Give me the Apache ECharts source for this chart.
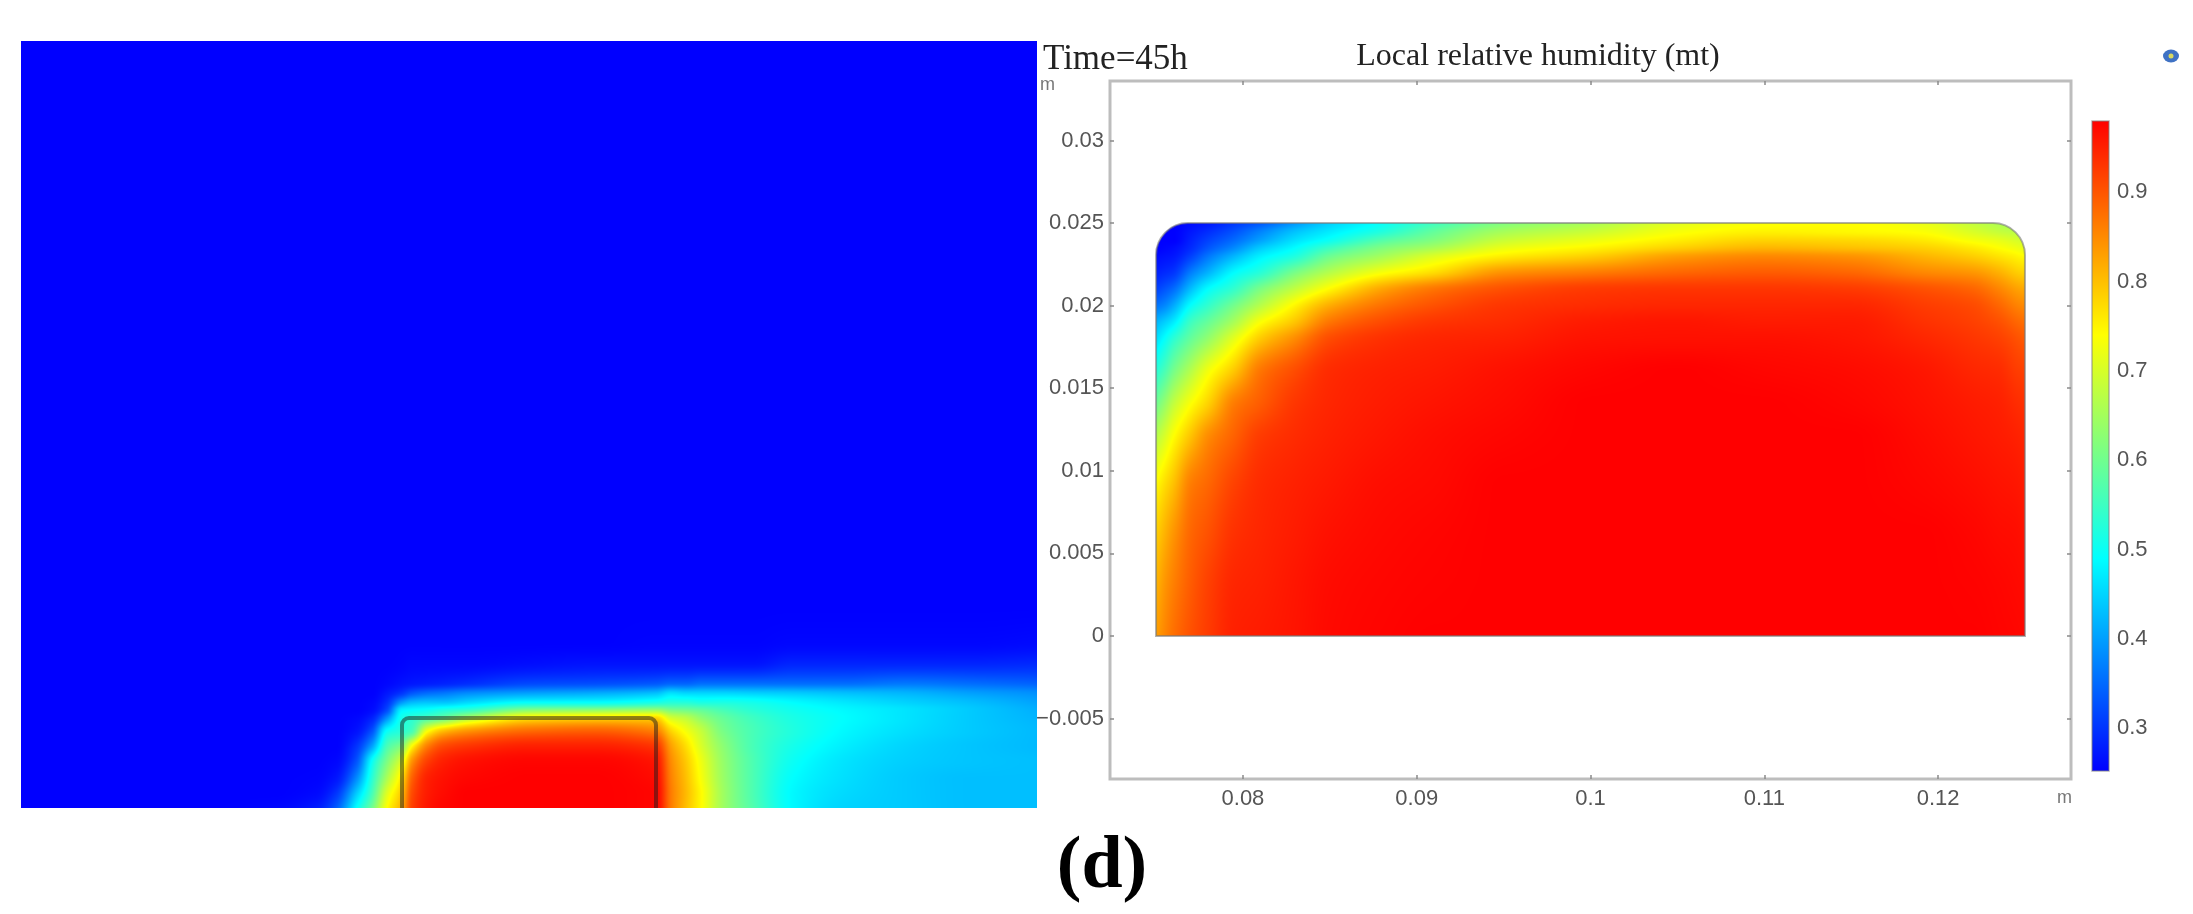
<!DOCTYPE html>
<html>
<head>
<meta charset="utf-8">
<title>Local relative humidity</title>
<script src="https://cdn.jsdelivr.net/npm/echarts@6/dist/echarts.min.js"></script>
<style>
  html, body { margin: 0; padding: 0; background: #fff; }
  #main { width: 2193px; height: 914px; }
</style>
</head>
<body>
<div id="main"></div>
<script>
// tick labels
var xTicks = [0.08, 0.09, 0.1, 0.11, 0.12];
var yTicks = [-0.005, 0, 0.005, 0.01, 0.015, 0.02, 0.025, 0.03];
var barTicks = [0.3, 0.4, 0.5, 0.6, 0.7, 0.8, 0.9];

// rainbow scale
var rampValues = [0.25, 0.49, 0.74, 0.98];
var rampColors = [[0, 0, 255], [0, 255, 255], [255, 255, 0], [255, 0, 0]];
var barRange = [0.252, 0.98];

// right panel: humidity, one inner list per x, top row first
var rightX = [0.075, 0.0755, 0.076, 0.077, 0.078, 0.0795, 0.081, 0.083, 0.085, 0.088, 0.091, 0.095, 0.1, 0.105, 0.11, 0.115, 0.119, 0.122, 0.1235, 0.1245, 0.125];
var rightY = [0.025, 0.0245, 0.024, 0.0235, 0.023, 0.022, 0.021, 0.02, 0.019, 0.018, 0.016, 0.014, 0.012, 0.009, 0.006, 0.003, 0];
var rightValues = [
  [.25,.25,.25,.25,.26,.28,.31,.36,.42,.46,.53,.60,.67,.745,.785,.81,.83],
  [.25,.25,.25,.255,.265,.29,.33,.38,.445,.495,.565,.64,.705,.775,.815,.84,.855],
  [.25,.25,.25,.26,.27,.30,.35,.41,.47,.53,.605,.68,.74,.80,.84,.86,.875],
  [.26,.27,.28,.29,.31,.37,.43,.495,.55,.59,.67,.74,.80,.865,.885,.895,.905],
  [.27,.29,.31,.33,.36,.42,.49,.54,.59,.635,.73,.785,.85,.885,.905,.92,.925],
  [.30,.325,.35,.38,.42,.49,.54,.605,.655,.715,.795,.865,.89,.92,.935,.945,.95],
  [.33,.37,.40,.44,.475,.53,.61,.67,.735,.79,.87,.895,.925,.94,.945,.95,.955],
  [.39,.43,.46,.49,.52,.61,.68,.75,.795,.85,.91,.93,.94,.95,.955,.96,.962],
  [.445,.47,.50,.55,.595,.67,.745,.82,.87,.91,.94,.945,.95,.958,.965,.97,.972],
  [.495,.52,.57,.615,.65,.735,.825,.875,.91,.935,.95,.955,.96,.968,.972,.975,.977],
  [.55,.585,.615,.655,.705,.775,.87,.905,.93,.945,.955,.962,.968,.972,.976,.978,.98],
  [.615,.65,.685,.72,.755,.845,.905,.93,.94,.95,.965,.97,.975,.98,.98,.98,.98],
  [.655,.685,.72,.75,.785,.865,.925,.94,.955,.963,.975,.98,.98,.98,.98,.98,.98],
  [.71,.73,.755,.785,.83,.885,.93,.945,.96,.965,.98,.98,.98,.98,.98,.98,.98],
  [.735,.75,.78,.81,.85,.895,.93,.945,.955,.965,.975,.98,.98,.98,.98,.98,.98],
  [.74,.745,.775,.80,.84,.885,.925,.945,.955,.96,.97,.975,.98,.98,.98,.98,.98],
  [.72,.735,.76,.785,.81,.855,.905,.925,.935,.945,.96,.965,.97,.975,.98,.98,.98],
  [.68,.70,.73,.76,.785,.84,.885,.91,.92,.93,.945,.955,.96,.968,.975,.978,.98],
  [.66,.68,.715,.74,.765,.815,.855,.885,.905,.92,.94,.95,.955,.963,.97,.975,.977],
  [.65,.67,.70,.725,.75,.79,.83,.86,.885,.905,.925,.94,.95,.96,.968,.972,.975],
  [.64,.66,.69,.715,.74,.78,.82,.85,.875,.895,.92,.935,.945,.955,.963,.97,.973]
];

// left panel: the wider view around the same block
var leftX = [0, 0.035, 0.05, 0.058, 0.062, 0.066, 0.069, 0.072, 0.075, 0.077, 0.08, 0.083, 0.088, 0.1, 0.113, 0.125, 0.128, 0.131, 0.134, 0.138, 0.144, 0.152, 0.162, 0.174, 0.187, 0.2];
var leftY = [0.1583, 0.048, 0.04, 0.036, 0.032, 0.03, 0.028, 0.0265, 0.025, 0.0225, 0.0195, 0.0165, 0.013, 0.01, 0.0073];
var leftValues = [
  [.25,.25,.25,.25,.25,.25,.25,.25,.25,.25,.25,.25,.25,.25,.25],
  [.25,.25,.25,.25,.25,.25,.25,.25,.25,.25,.25,.25,.25,.25,.25],
  [.25,.25,.25,.25,.25,.25,.25,.25,.25,.25,.25,.25,.25,.25,.255],
  [.25,.25,.25,.25,.25,.25,.25,.25,.25,.25,.25,.25,.252,.258,.275],
  [.25,.25,.25,.25,.25,.25,.25,.25,.25,.25,.25,.255,.27,.30,.335],
  [.25,.25,.25,.25,.25,.25,.25,.25,.255,.265,.295,.325,.38,.44,.49],
  [.25,.25,.25,.25,.25,.25,.255,.26,.28,.325,.40,.495,.53,.56,.60],
  [.25,.25,.25,.25,.255,.27,.295,.32,.385,.495,.56,.61,.66,.71,.74],
  [.25,.25,.25,.252,.265,.30,.40,.48,.51,.53,.62,.71,.77,.80,.82],
  [.25,.25,.25,.255,.27,.33,.43,.49,.53,.56,.74,.84,.89,.91,.92],
  [.25,.25,.25,.255,.275,.35,.44,.50,.56,.73,.86,.92,.95,.955,.96],
  [.25,.25,.25,.255,.28,.36,.44,.52,.59,.80,.91,.95,.965,.97,.975],
  [.25,.25,.25,.255,.29,.38,.46,.54,.66,.84,.93,.965,.975,.98,.98],
  [.25,.25,.25,.26,.315,.40,.50,.62,.76,.88,.95,.975,.98,.98,.98],
  [.25,.25,.25,.265,.32,.41,.50,.63,.775,.89,.95,.975,.98,.98,.98],
  [.25,.25,.252,.265,.33,.43,.52,.64,.78,.86,.93,.96,.97,.975,.975],
  [.25,.25,.252,.265,.34,.46,.53,.61,.70,.78,.83,.85,.86,.865,.865],
  [.25,.25,.252,.265,.34,.45,.53,.60,.675,.73,.77,.79,.80,.805,.80],
  [.25,.25,.252,.265,.35,.45,.52,.585,.63,.68,.70,.72,.73,.74,.74],
  [.25,.25,.252,.265,.35,.45,.52,.56,.59,.61,.63,.64,.645,.65,.65],
  [.25,.25,.252,.265,.35,.445,.51,.53,.55,.56,.56,.565,.565,.565,.57],
  [.25,.25,.255,.28,.35,.44,.49,.505,.515,.52,.51,.50,.49,.485,.485],
  [.25,.25,.255,.28,.35,.43,.47,.485,.49,.485,.475,.465,.46,.455,.45],
  [.25,.25,.255,.28,.36,.42,.45,.465,.465,.46,.45,.445,.44,.44,.44],
  [.25,.25,.255,.28,.35,.40,.43,.44,.44,.44,.435,.435,.43,.43,.43],
  [.25,.25,.258,.285,.34,.385,.405,.415,.42,.425,.425,.43,.43,.43,.43]
];

// the block outline in metres: x0, x1, y0, y1
var block = [0.075, 0.125, 0, 0.025];
var blockRadius = 0.0019;

var serif = '"Liberation Serif", serif';
var sans = '"Liberation Sans", sans-serif';

function rampColor(v) {
  var k = 0;
  while (k < rampValues.length - 2 && v > rampValues[k + 1]) k++;
  var t = (v - rampValues[k]) / (rampValues[k + 1] - rampValues[k]);
  t = Math.max(0, Math.min(1, t));
  var a = rampColors[k], b = rampColors[k + 1];
  return [a[0] + (b[0] - a[0]) * t, a[1] + (b[1] - a[1]) * t, a[2] + (b[2] - a[2]) * t];
}

// one record per grid cell: x0, x1, y0, y1 and its grid position
function cellData(xs, ys) {
  var out = [];
  for (var i = 0; i < xs.length - 1; i++) {
    for (var j = 0; j < ys.length - 1; j++) {
      out.push([xs[i], xs[i + 1], ys[j], ys[j + 1], i, j]);
    }
  }
  return out;
}

// limited slope at a node so the shading does not overshoot between readings
function nodeSlope(pos, val, k) {
  var n = pos.length - 1;
  if (k === 0) return (val[1] - val[0]) / (pos[1] - pos[0]);
  if (k === n) return (val[n] - val[n - 1]) / (pos[n] - pos[n - 1]);
  var a = (val[k] - val[k - 1]) / (pos[k] - pos[k - 1]);
  var b = (val[k + 1] - val[k]) / (pos[k + 1] - pos[k]);
  if (a * b <= 0) return 0;
  return 2 * a * b / (a + b);
}

function slopeTables(xs, ys, values) {
  var sx = [], sy = [];
  for (var i = 0; i < xs.length; i++) {
    sx.push([]);
    sy.push([]);
    for (var j = 0; j < ys.length; j++) {
      var acrossX = values.map(function (col) { return col[j]; });
      sx[i].push(nodeSlope(xs, acrossX, i));
      sy[i].push(nodeSlope(ys, values[i], j));
    }
  }
  return { sx: sx, sy: sy };
}

// how much of a point is inside the block with its two rounded top corners
function blockCover(x, y, pxPerM) {
  var cy = block[3] - blockRadius, cx;
  if (y <= cy) return 1;
  if (x < block[0] + blockRadius) cx = block[0] + blockRadius;
  else if (x > block[1] - blockRadius) cx = block[1] - blockRadius;
  else return 1;
  var d = Math.sqrt((x - cx) * (x - cx) + (y - cy) * (y - cy));
  return Math.max(0, Math.min(1, (blockRadius - d) * pxPerM + 0.5));
}

// shades a cell from its corner readings and slopes on a small canvas
function renderCell(xs, ys, values, rounded) {
  var tables = slopeTables(xs, ys, values);
  var sx = tables.sx, sy = tables.sy;
  return function (params, api) {
    var x0 = api.value(0), x1 = api.value(1), y0 = api.value(2), y1 = api.value(3);
    var ci = api.value(4), cj = api.value(5);
    var a = api.coord([x0, y0]), b = api.coord([x1, y1]);
    var px = Math.round(a[0]), py = Math.round(a[1]);
    var w = Math.round(b[0]) - px, h = Math.round(b[1]) - py;
    if (w <= 0 || h <= 0) return null;
    var dx = x1 - x0, dy = y1 - y0;
    var f00 = values[ci][cj], f10 = values[ci + 1][cj], f01 = values[ci][cj + 1], f11 = values[ci + 1][cj + 1];
    var canvas = document.createElement('canvas');
    canvas.width = w;
    canvas.height = h;
    var ctx = canvas.getContext('2d');
    var img = ctx.createImageData(w, h);
    var n = 0;
    for (var j = 0; j < h; j++) {
      var t = (j + 0.5) / h, t2 = t * t, t3 = t2 * t;
      var ta = 2 * t3 - 3 * t2 + 1, tb = 3 * t2 - 2 * t3, tc = (t3 - 2 * t2 + t) * dy, td = (t3 - t2) * dy;
      var left = ta * f00 + tb * f01 + tc * sy[ci][cj] + td * sy[ci][cj + 1];
      var right = ta * f10 + tb * f11 + tc * sy[ci + 1][cj] + td * sy[ci + 1][cj + 1];
      var slopeL = ta * sx[ci][cj] + tb * sx[ci][cj + 1];
      var slopeR = ta * sx[ci + 1][cj] + tb * sx[ci + 1][cj + 1];
      for (var i = 0; i < w; i++) {
        var s = (i + 0.5) / w, s2 = s * s, s3 = s2 * s;
        var v = (2 * s3 - 3 * s2 + 1) * left + (3 * s2 - 2 * s3) * right +
          (s3 - 2 * s2 + s) * dx * slopeL + (s3 - s2) * dx * slopeR;
        var c = rampColor(v);
        img.data[n++] = c[0];
        img.data[n++] = c[1];
        img.data[n++] = c[2];
        img.data[n++] = rounded ? 255 * blockCover(x0 + dx * s, y0 + dy * t, 17000) : 255;
      }
    }
    ctx.putImageData(img, 0, 0);
    return { type: 'image', style: { image: canvas, x: px, y: py, width: w, height: h } };
  };
}

function renderOutline(stroke, lineWidth, radius) {
  return function (params, api) {
    var a = api.coord([api.value(0), api.value(3)]);
    var b = api.coord([api.value(1), api.value(2)]);
    return {
      type: 'rect',
      shape: { x: a[0], y: a[1], width: b[0] - a[0], height: b[1] - a[1], r: [radius, radius, 0, 0] },
      style: { fill: null, stroke: stroke, lineWidth: lineWidth }
    };
  };
}

function renderBar(params, api) {
  var a = api.coord([0, api.value(1)]);
  var b = api.coord([1, api.value(0)]);
  var span = barRange[1] - barRange[0];
  var stops = rampValues.map(function (v, i) {
    var c = rampColors[i];
    return { offset: Math.max(0, Math.min(1, (barRange[1] - v) / span)), color: 'rgb(' + c.join(',') + ')' };
  }).reverse();
  return {
    type: 'rect',
    shape: { x: a[0], y: a[1], width: b[0] - a[0], height: b[1] - a[1] },
    style: {
      fill: new echarts.graphic.LinearGradient(0, 0, 0, 1, stops),
      stroke: 'rgba(130,130,130,0.6)', lineWidth: 1.5
    }
  };
}

var hiddenAxis = { show: false };
var tickLabel = {
  color: '#555', fontFamily: sans, fontSize: 22,
  formatter: function (v) { return String(v).replace('-', '\u2212'); }
};
var noLine = { show: false, onZero: false };
var tickLine = { color: '#8a8a8a', width: 1.5 };

function ticksOnly(list) {
  return { inside: true, length: 4, lineStyle: tickLine, customValues: list };
}

var chart = echarts.init(document.getElementById('main'), null, { renderer: 'canvas' });

chart.setOption({
  animation: false,
  backgroundColor: '#fff',
  grid: [
    { left: 21, top: 41, width: 1016, height: 767 },
    { left: 1110, top: 81, width: 961, height: 698, show: true, backgroundColor: '#fff', borderColor: '#bdbdbd', borderWidth: 3 },
    { left: 2092, top: 121, width: 17, height: 650 }
  ],
  xAxis: [
    Object.assign({ type: 'value', gridIndex: 0, min: 0, max: 0.2 }, hiddenAxis),
    {
      type: 'value', gridIndex: 1, min: 0.07235, max: 0.12765, position: 'bottom',
      axisLine: noLine, splitLine: { show: false },
      axisTick: ticksOnly(xTicks),
      axisLabel: Object.assign({ customValues: xTicks, margin: 9 }, tickLabel)
    },
    {
      type: 'value', gridIndex: 1, min: 0.07235, max: 0.12765, position: 'top',
      axisLine: noLine, splitLine: { show: false },
      axisTick: ticksOnly(xTicks), axisLabel: { show: false }
    },
    Object.assign({ type: 'value', gridIndex: 2, min: 0, max: 1 }, hiddenAxis)
  ],
  yAxis: [
    Object.assign({ type: 'value', gridIndex: 0, min: 0.0073, max: 0.1583 }, hiddenAxis),
    {
      type: 'value', gridIndex: 1, min: -0.00866, max: 0.0336, position: 'left',
      axisLine: noLine, splitLine: { show: false },
      axisTick: ticksOnly(yTicks),
      axisLabel: Object.assign({ customValues: yTicks, margin: 6 }, tickLabel)
    },
    {
      type: 'value', gridIndex: 1, min: -0.00866, max: 0.0336, position: 'right',
      axisLine: noLine, splitLine: { show: false },
      axisTick: ticksOnly(yTicks), axisLabel: { show: false }
    },
    {
      type: 'value', gridIndex: 2, min: barRange[0], max: barRange[1], position: 'right',
      axisLine: noLine, splitLine: { show: false },
      axisTick: ticksOnly(barTicks),
      axisLabel: Object.assign({ customValues: barTicks, margin: 8 }, tickLabel)
    },
    {
      type: 'value', gridIndex: 2, min: barRange[0], max: barRange[1], position: 'left',
      axisLine: noLine, splitLine: { show: false },
      axisTick: ticksOnly(barTicks), axisLabel: { show: false }
    }
  ],
  series: [
    {
      type: 'custom', xAxisIndex: 0, yAxisIndex: 0, silent: true, clip: true,
      encode: { x: [0, 1], y: [2, 3] },
      renderItem: renderCell(leftX, leftY, leftValues, false), data: cellData(leftX, leftY)
    },
    {
      type: 'custom', xAxisIndex: 0, yAxisIndex: 0, silent: true, clip: true,
      encode: { x: [0, 1], y: [2, 3] },
      renderItem: renderOutline('rgba(30,30,30,0.5)', 4, 7), data: [block]
    },
    {
      type: 'custom', xAxisIndex: 1, yAxisIndex: 1, silent: true, clip: true,
      encode: { x: [0, 1], y: [2, 3] },
      renderItem: renderCell(rightX, rightY, rightValues, true), data: cellData(rightX, rightY)
    },
    {
      type: 'custom', xAxisIndex: 1, yAxisIndex: 1, silent: true, clip: true,
      encode: { x: [0, 1], y: [2, 3] },
      renderItem: renderOutline('rgba(120,120,120,0.6)', 2, 32), data: [block]
    },
    {
      type: 'custom', xAxisIndex: 3, yAxisIndex: 3, silent: true, clip: false,
      encode: { y: [0, 1] },
      renderItem: renderBar, data: [barRange]
    }
  ],
  graphic: [
    { type: 'text', x: 1043, y: 60, style: { text: 'Time=45h', fill: '#222', font: '35px ' + serif, textVerticalAlign: 'middle' } },
    { type: 'text', x: 1538, y: 57, style: { text: 'Local relative humidity (mt)', fill: '#222', font: '32px ' + serif, textAlign: 'center', textVerticalAlign: 'middle' } },
    { type: 'text', x: 1102, y: 868, style: { text: '(d)', fill: '#000', font: 'bold 74px ' + serif, textAlign: 'center', textVerticalAlign: 'middle' } },
    { type: 'text', x: 1040, y: 85, style: { text: 'm', fill: '#777', font: '18px ' + sans, textVerticalAlign: 'middle' } },
    { type: 'text', x: 2057, y: 798, style: { text: 'm', fill: '#777', font: '18px ' + sans, textVerticalAlign: 'middle' } },
    // small logo at the top right corner
    { type: 'circle', x: 2171, y: 56, scaleY: 0.8, shape: { r: 8 }, style: { fill: '#3f72c4' } },
    { type: 'circle', x: 2171, y: 56, shape: { r: 2.5 }, style: { fill: '#d8d860' } }
  ]
});
</script>
</body>
</html>
